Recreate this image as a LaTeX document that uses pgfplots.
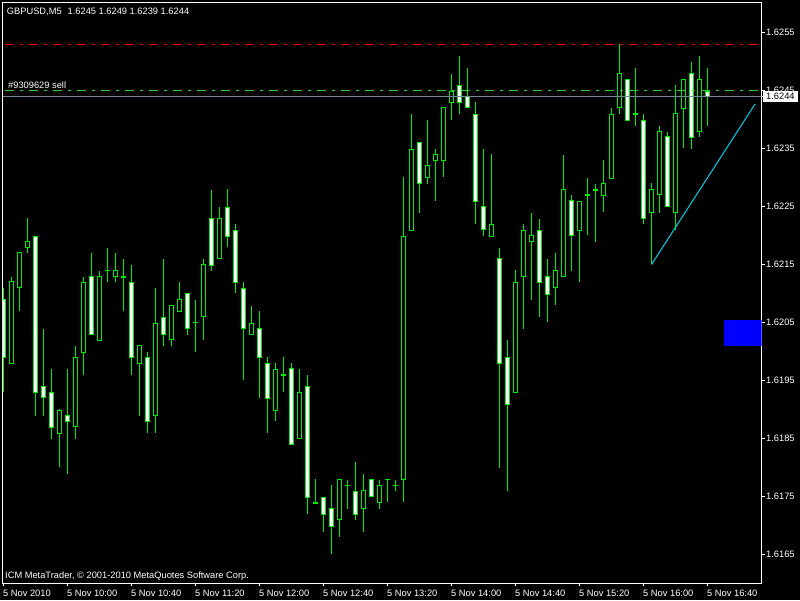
\documentclass[border=0pt]{standalone}
\usepackage{fontspec}
\setmainfont{Liberation Sans}
\usepackage{pgfplots}
\pgfplotsset{compat=1.18}
\usepackage{pgfplotstable}

\definecolor{candle}{RGB}{0,235,0}
\definecolor{orderline}{RGB}{40,210,40}
\definecolor{stopline}{RGB}{255,0,0}
\definecolor{bidline}{RGB}{119,136,153}
\definecolor{trend}{RGB}{0,210,235}

% GBPUSD M5, 5 Nov 2010, bar index 0 = 09:20
\pgfplotstableread{
i  o      h      l      c
0  1.6209 1.6211 1.6193 1.6199
1  1.6198 1.6213 1.6198 1.6212
2  1.6211 1.6217 1.6207 1.6217
3  1.6218 1.6223 1.6217 1.6219
4  1.6220 1.6220 1.6189 1.6193
5  1.6194 1.6204 1.6189 1.6192
6  1.6193 1.6197 1.6185 1.6187
7  1.6186 1.6190 1.6180 1.6190
8  1.6189 1.6197 1.6179 1.6188
9  1.6187 1.6201 1.6185 1.6199
10 1.6200 1.6213 1.6196 1.6212
11 1.6213 1.6217 1.6203 1.6203
12 1.6202 1.6214 1.6202 1.6213
13 1.6214 1.6218 1.6212 1.6214
14 1.6213 1.6217 1.6212 1.6214
15 1.6213 1.6216 1.6207 1.6213
16 1.6212 1.6215 1.6196 1.6199
17 1.6198 1.6201 1.6189 1.6201
18 1.6199 1.6200 1.6186 1.6188
19 1.6189 1.6211 1.6186 1.6205
20 1.6206 1.6216 1.6201 1.6203
21 1.6202 1.6208 1.6201 1.6208
22 1.6207 1.6212 1.6207 1.6209
23 1.6210 1.6210 1.6203 1.6204
24 1.6205 1.6209 1.6200 1.6205
25 1.6206 1.6216 1.6202 1.6215
26 1.6223 1.6228 1.6214 1.6215
27 1.6216 1.6225 1.6216 1.6223
28 1.6225 1.6228 1.6218 1.6220
29 1.6221 1.6222 1.6210 1.6212
30 1.6211 1.6212 1.6195 1.6204
31 1.6203 1.6208 1.6203 1.6205
32 1.6204 1.6207 1.6192 1.6199
33 1.6198 1.6199 1.6186 1.6192
34 1.6190 1.6198 1.6188 1.6197
35 1.6196 1.6199 1.6193 1.6196
36 1.6197 1.6198 1.6184 1.6184
37 1.6185 1.6197 1.6185 1.6193
38 1.6194 1.6196 1.6172 1.6175
39 1.6174 1.6178 1.6174 1.6174
40 1.6175 1.6175 1.6169 1.6172
41 1.6173 1.6177 1.6165 1.6170
42 1.6171 1.6178 1.6168 1.6178
43 1.6177 1.6178 1.6173 1.6177
44 1.6176 1.6181 1.6171 1.6172
45 1.6173 1.6179 1.6169 1.6176
46 1.6178 1.6178 1.6175 1.6175
47 1.6174 1.6178 1.6173 1.6177
48 1.6178 1.6178 1.6174 1.6178
49 1.6177 1.6178 1.6176 1.6177
50 1.6178 1.6230 1.6174 1.6220
51 1.6221 1.6241 1.6221 1.6235
52 1.6236 1.6236 1.6224 1.6229
53 1.6230 1.6240 1.6229 1.6232
54 1.6233 1.6235 1.6226 1.6234
55 1.6233 1.6242 1.6230 1.6242
56 1.6243 1.6248 1.6240 1.6245
57 1.6246 1.6251 1.6241 1.6243
58 1.6244 1.6249 1.6242 1.6242
59 1.6241 1.6243 1.6222 1.6226
60 1.6225 1.6235 1.6220 1.6221
61 1.6220 1.6234 1.6220 1.6222
62 1.6216 1.6218 1.6180 1.6198
63 1.6199 1.6202 1.6176 1.6191
64 1.6193 1.6214 1.6193 1.6212
65 1.6213 1.6222 1.6204 1.6221
66 1.6219 1.6224 1.6209 1.6220
67 1.6221 1.6223 1.6206 1.6212
68 1.6213 1.6216 1.6205 1.6210
69 1.6211 1.6217 1.6208 1.6214
70 1.6213 1.6234 1.6213 1.6228
71 1.6226 1.6227 1.6214 1.6220
72 1.6221 1.6226 1.6212 1.6226
73 1.6227 1.6230 1.6220 1.6227
74 1.6228 1.6229 1.6219 1.6228
75 1.6227 1.6233 1.6224 1.6229
76 1.6230 1.6242 1.6230 1.6241
77 1.6242 1.6253 1.6241 1.6248
78 1.6247 1.6247 1.6240 1.6240
79 1.6241 1.6249 1.6239 1.6241
80 1.6240 1.6241 1.6222 1.6223
81 1.6224 1.6229 1.6215 1.6228
82 1.6227 1.6239 1.6224 1.6238
83 1.6237 1.6238 1.6225 1.6225
84 1.6224 1.6246 1.6221 1.6241
85 1.6242 1.6247 1.6235 1.6247
86 1.6248 1.6250 1.6235 1.6237
87 1.6238 1.6251 1.6237 1.6247
88 1.6245 1.6249 1.6239 1.6244
}\candles

\begin{document}
\begin{tikzpicture}[x=1pt,y=1pt,font=\fontsize{9.3}{11}\selectfont]
\fill[black] (0,0) rectangle (800,600);
\begin{axis}[
  at={(2.5pt,16.5pt)}, anchor=south west,
  scale only axis, width=759pt, height=581pt,
  xmin=-0.125, xmax=94.75, ymin=1.61600, ymax=1.6260172,
  axis background/.style={fill=black},
  axis line style={white, line width=1pt},
  tick style={white, line width=1pt},
  tick align=outside, major tick length=3pt,
  xtick pos=bottom, ytick pos=right, yticklabel pos=right,
  xtick={0,8,16,24,32,40,48,56,64,72,80,88},
  xticklabels={5 Nov 2010,5 Nov 10:00,5 Nov 10:40,5 Nov 11:20,5 Nov 12:00,5 Nov 12:40,
    5 Nov 13:20,5 Nov 14:00,5 Nov 14:40,5 Nov 15:20,5 Nov 16:00,5 Nov 16:40},
  ytick={1.6165,1.6175,1.6185,1.6195,1.6205,1.6215,1.6225,1.6235,1.6245,1.6255},
  yticklabels={1.6165,1.6175,1.6185,1.6195,1.6205,1.6215,1.6225,1.6235,1.6245,1.6255},
  xticklabel style={text=white, anchor=north west, inner sep=0pt, yshift=-3pt, xshift=-0.5pt},
  yticklabel style={text=white, anchor=west, inner sep=0pt, xshift=1.5pt},
  extra y ticks={1.6244}, extra y tick labels={1.6244},
  extra y tick style={yticklabel style={fill=white, text=black, inner xsep=3pt, inner ysep=2pt, xshift=-3pt}},
]
% wicks
\addplot [draw=none, mark=none, forget plot,
  error bars/.cd, y dir=both, y explicit, error mark=none,
  error bar style={draw=candle, line width=1pt}]
  table [x=i, y expr=(\thisrow{h}+\thisrow{l})/2, y error expr=(\thisrow{h}-\thisrow{l})/2] {\candles};
% body outline
\addplot [draw=none, mark=none, forget plot,
  error bars/.cd, y dir=both, y explicit, error mark=none,
  error bar style={draw=candle, line width=5pt}]
  table [x=i, y expr=(\thisrow{o}+\thisrow{c})/2, y error expr=abs(\thisrow{o}-\thisrow{c})/2+0.0000086] {\candles};
% bear bodies (white)
\addplot [draw=none, mark=none, forget plot,
  error bars/.cd, y dir=both, y explicit, error mark=none,
  error bar style={draw=white, line width=3pt}]
  table [x=i, y expr={\thisrow{c}<\thisrow{o} ? (\thisrow{o}+\thisrow{c})/2 : nan},
         y error expr=abs(\thisrow{o}-\thisrow{c})/2-0.0000086] {\candles};
% bull bodies (hollow)
\addplot [draw=none, mark=none, forget plot,
  error bars/.cd, y dir=both, y explicit, error mark=none,
  error bar style={draw=black, line width=3pt}]
  table [x=i, y expr={\thisrow{c}>\thisrow{o} ? (\thisrow{o}+\thisrow{c})/2 : nan},
         y error expr=abs(\thisrow{o}-\thisrow{c})/2-0.0000086] {\candles};

% stop level, order line, bid line
\addplot [draw=stopline, line width=1pt, dash pattern=on 9pt off 6pt on 3pt off 6pt, mark=none]
  coordinates {(0.125,1.6253) (94.25,1.6253)};
\addplot [draw=orderline, line width=1pt, dash pattern=on 9pt off 6pt on 3pt off 6pt, mark=none]
  coordinates {(0.125,1.6245) (94.25,1.6245)};
\addplot [draw=bidline, line width=1pt, mark=none]
  coordinates {(-0.125,1.6244) (94.75,1.6244)};
% trend line
\addplot [draw=trend, line width=1pt, mark=none]
  coordinates {(81,1.6215) (93.96,1.62427)};
% blue block
\addplot [fill=blue, draw=none, mark=none]
  coordinates {(90,1.6201) (94.75,1.6201) (94.75,1.62055) (90,1.62055)};
\end{axis}
\node[anchor=base west, inner sep=0pt, text=white] at (6.7,585.7) {GBPUSD,M5\hspace{6pt}1.6245 1.6249 1.6239 1.6244};
\node[anchor=base west, inner sep=0pt, text=white] at (8,511.7) {\#9309629 sell};
\node[anchor=base west, inner sep=0pt, text=white] at (5,22) {ICM MetaTrader, © 2001-2010 MetaQuotes Software Corp.};
\end{tikzpicture}
\end{document}
